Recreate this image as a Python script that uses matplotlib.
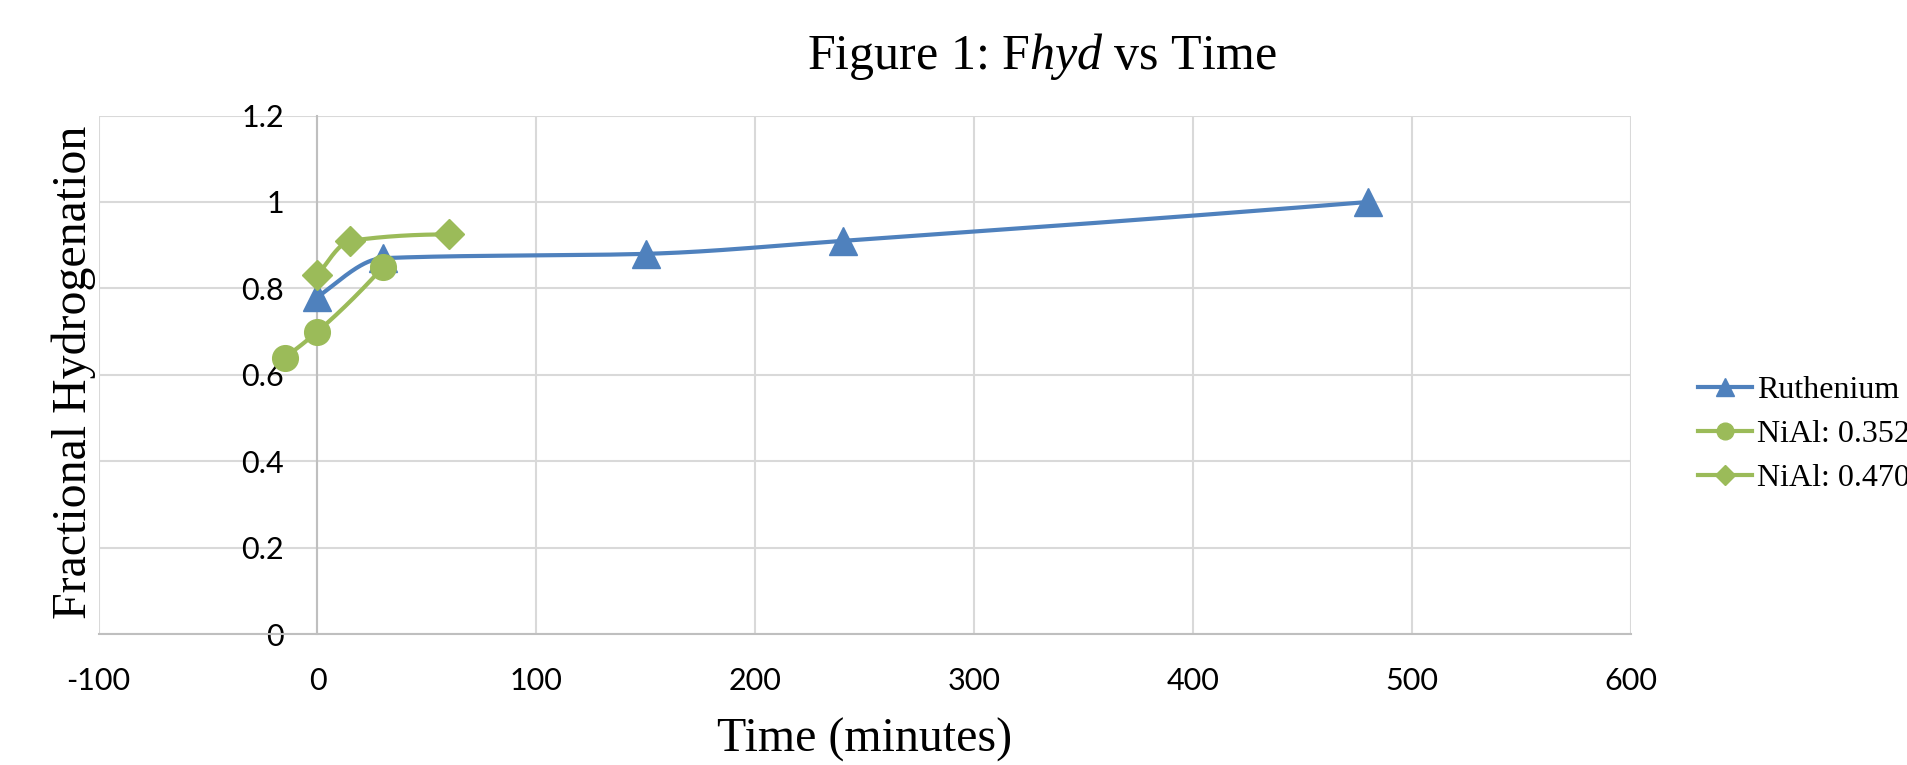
import numpy as np
import matplotlib
matplotlib.use("Agg")
import matplotlib.pyplot as plt

plt.rcParams.update({"mathtext.fontset": "custom",
                     "mathtext.rm": "Liberation Serif",
                     "mathtext.it": "Liberation Serif:italic",
                     "axes.unicode_minus": False})

C_BLUE = "#4F81BD"
C_GREEN = "#9BBB59"
C_GRID = "#D9D9D9"
C_AXIS = "#BFBFBF"

# data
ru_t = [0, 30, 150, 240, 480]
ru_f = [0.78, 0.87, 0.88, 0.91, 1.00]
ni352_t = [-15, 0, 30]
ni352_f = [0.64, 0.70, 0.85]
ni470_t = [0, 15, 60]
ni470_f = [0.83, 0.91, 0.925]

x_ticks = [-100, 0, 100, 200, 300, 400, 500, 600]
y_ticks = [0, 0.2, 0.4, 0.6, 0.8, 1.0, 1.2]
y_labels = ["0", "0.2", "0.4", "0.6", "0.8", "1", "1.2"]


def smooth(x, y, n=200):
    # monotone cubic (pchip) through the points, like Excel's smoothed line
    x = np.asarray(x, float); y = np.asarray(y, float)
    h = np.diff(x); d = np.diff(y) / h
    m = np.zeros(len(x))
    for k in range(1, len(x) - 1):
        if d[k - 1] * d[k] > 0:
            w1 = 2 * h[k] + h[k - 1]; w2 = h[k] + 2 * h[k - 1]
            m[k] = (w1 + w2) / (w1 / d[k - 1] + w2 / d[k])

    def end(h0, h1, d0, d1):
        v = ((2 * h0 + h1) * d0 - h0 * d1) / (h0 + h1)
        if np.sign(v) != np.sign(d0):
            return 0.0
        if np.sign(d0) != np.sign(d1) and abs(v) > 3 * abs(d0):
            return 3 * d0
        return v
    m[0] = end(h[0], h[1], d[0], d[1])
    m[-1] = end(h[-1], h[-2], d[-1], d[-2])
    xs, ys = [], []
    for k in range(len(x) - 1):
        t = np.linspace(0, 1, n)
        h00 = 2 * t**3 - 3 * t**2 + 1; h10 = t**3 - 2 * t**2 + t
        h01 = -2 * t**3 + 3 * t**2; h11 = t**3 - t**2
        xs.append(x[k] + t * h[k])
        ys.append(h00 * y[k] + h10 * h[k] * m[k] + h01 * y[k + 1] + h11 * h[k] * m[k + 1])
    return np.concatenate(xs), np.concatenate(ys)


fig = plt.figure(figsize=(19.08, 7.65), dpi=100)
ax = fig.add_axes([0.0517, 0.1712, 0.8029, 0.6777])

series = [(ru_t, ru_f, C_BLUE, "^", 20, "Ruthenium"),
          (ni352_t, ni352_f, C_GREEN, "o", 18.5, "NiAl: 0.352"),
          (ni470_t, ni470_f, C_GREEN, "D", 15, "NiAl: 0.470")]
for i, (t, f, c, mk, ms, lab) in enumerate(series):
    sx, sy = smooth(t, f)
    ax.plot(sx, sy, color=c, lw=3.0, zorder=3 + i, solid_capstyle="round")
    ax.plot(t, f, ls="none", marker=mk, ms=ms, color=c, mec=c, zorder=3 + i)
    ax.plot([], [], color=c, lw=3.0, marker=mk, ms=ms * 0.65, mec=c, label=lab)

ax.set_xlim(-100, 600)
ax.set_ylim(0, 1.2)
ax.set_xticks(x_ticks)
ax.set_yticks(y_ticks)
ax.set_yticklabels(y_labels)
ax.grid(True, color=C_GRID, lw=1.5)
ax.set_axisbelow(True)
for s in ("top", "right"):
    ax.spines[s].set_visible(False)
ax.spines["left"].set_position(("data", 0))
ax.spines["left"].set_color(C_AXIS)
ax.spines["bottom"].set_color(C_AXIS)
ax.spines["left"].set_linewidth(1.5)
ax.spines["bottom"].set_linewidth(1.5)
ax.tick_params(length=0, labelsize=22)
ax.tick_params(axis="y", pad=24)
ax.tick_params(axis="x", pad=24)
for lbl in ax.get_xticklabels() + ax.get_yticklabels():
    lbl.set_fontfamily("Lato")

fig.text(0.546, 0.91, r"Figure 1: F$\mathit{hyd}$ vs Time", ha="center",
         va="baseline", fontsize=36, family="Liberation Serif")
fig.text(865 / 1908, 0.017, "Time (minutes)", ha="center", va="baseline",
         fontsize=34.5, family="Liberation Serif")
fig.text(0.0388, 0.513, "Fractional Hydrogenation", rotation=90, ha="center",
         va="center", fontsize=34.5, family="Liberation Serif")

fig.legend(loc="center left", bbox_to_anchor=(1698 / 1908, 0.432),
           frameon=False, borderpad=0, borderaxespad=0, handlelength=1.7,
           handletextpad=0.15, labelspacing=0.45,
           prop={"family": "Liberation Serif", "size": 23})

fig.savefig("out.png", dpi=100)
